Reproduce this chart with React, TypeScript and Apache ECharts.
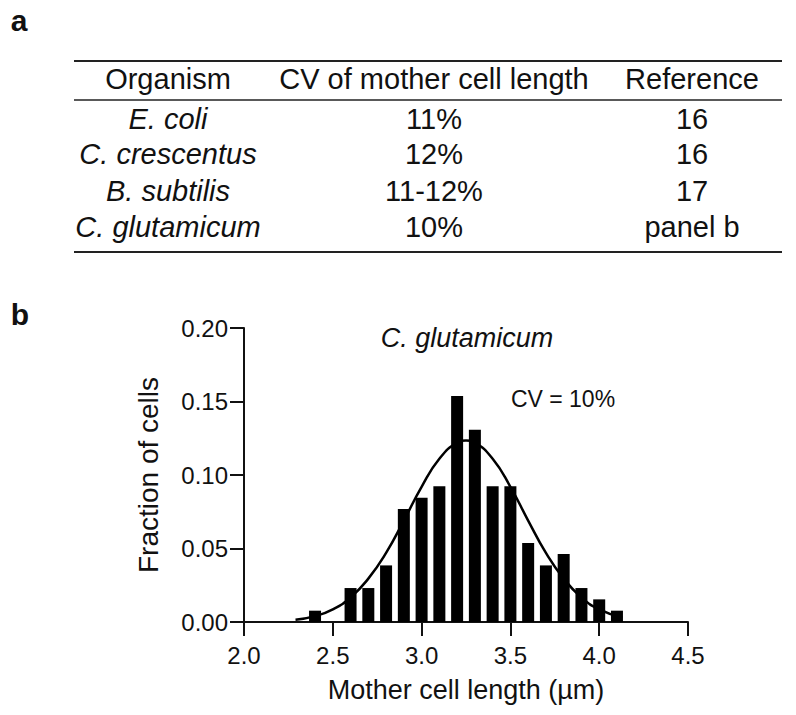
import React, { useEffect, useRef } from "react";
import * as echarts from "echarts";

// ---- Panel a: table ----
const tableHeaders = ["Organism", "CV of mother cell length", "Reference"];
const organisms = ["E. coli", "C. crescentus", "B. subtilis", "C. glutamicum"];
const cvValues = ["11%", "12%", "11-12%", "10%"];
const references = ["16", "16", "17", "panel b"];

// ---- Panel b: histogram ----
const binCenters = [2.4, 2.5, 2.6, 2.7, 2.8, 2.9, 3.0, 3.1, 3.2, 3.3, 3.4, 3.5, 3.6, 3.7, 3.8, 3.9, 4.0, 4.1];
const fractions = [0.0077, 0, 0.0231, 0.0231, 0.0385, 0.0769, 0.0846, 0.0923, 0.1538, 0.1308, 0.0923, 0.0923, 0.0538, 0.0385, 0.0462, 0.0231, 0.0154, 0.0077];

// fitted curve
const curveX = [2.29, 2.4, 2.5, 2.6, 2.7, 2.8, 2.9, 3.0, 3.1, 3.2, 3.25, 3.3, 3.4, 3.5, 3.6, 3.7, 3.8, 3.9, 4.0, 4.13];
const curveY = [0.0015, 0.004, 0.0086, 0.0167, 0.0295, 0.047, 0.069, 0.092, 0.111, 0.122, 0.1235, 0.122, 0.111, 0.092, 0.069, 0.047, 0.0295, 0.0167, 0.0086, 0.003];

const panelTitle = "C. glutamicum";
const cvLabel = "CV = 10%";
const xAxisTitle = "Mother cell length (µm)";
const yAxisTitle = "Fraction of cells";

const FONT = "'Liberation Sans', Arial, Helvetica, sans-serif";
const INK = "#111";

function txt(text: string, x: number, y: number, size: number, opts: any = {}) {
  const align = opts.align || "center";
  return {
    type: "text",
    x,
    y,
    silent: true,
    style: {
      text,
      fill: INK,
      fontSize: size,
      fontFamily: FONT,
      fontStyle: opts.italic ? "italic" : "normal",
      fontWeight: opts.bold ? "bold" : "normal",
      align,
      textAlign: align,
      verticalAlign: "middle",
      textVerticalAlign: "middle",
    },
  };
}

function hline(x1: number, x2: number, y: number, w: number) {
  return {
    type: "line",
    silent: true,
    shape: { x1, y1: y, x2, y2: y },
    style: { stroke: "#222", lineWidth: w },
  };
}

export default function App() {
  const ref = useRef<HTMLDivElement>(null);

  useEffect(() => {
    if (!ref.current) return;
    const chart = echarts.init(ref.current, null, { renderer: "svg" });

    const colX = [168, 434, 692];
    const headerY = 79;
    const rowY = [119, 154, 191, 227];
    const tableFont = 29;

    const graphics: any[] = [];
    graphics.push(txt("a", 19, 20, 30, { bold: true }));
    graphics.push(txt("b", 20, 314, 30, { bold: true }));
    graphics.push(hline(74, 782, 61, 2));
    graphics.push(hline(74, 782, 100, 1.5));
    graphics.push(hline(74, 782, 252, 2));
    tableHeaders.forEach((h, i) => graphics.push(txt(h, colX[i], headerY, tableFont)));
    organisms.forEach((o, i) => {
      graphics.push(txt(o, colX[0], rowY[i], tableFont, { italic: true }));
      graphics.push(txt(cvValues[i], colX[1], rowY[i], tableFont));
      graphics.push(txt(references[i], colX[2], rowY[i], tableFont));
    });
    graphics.push(txt(panelTitle, 467, 338, 27, { italic: true }));
    graphics.push(txt(cvLabel, 563, 399, 23));

    chart.setOption({
      animation: false,
      backgroundColor: "#fff",
      grid: { left: 244, right: 108, top: 328, bottom: 93, containLabel: false },
      xAxis: {
        type: "value",
        min: 2,
        max: 4.5,
        interval: 0.5,
        name: xAxisTitle,
        nameLocation: "middle",
        nameGap: 54,
        nameTextStyle: { fontSize: 27, color: INK, fontFamily: FONT },
        axisLine: { show: true, lineStyle: { color: INK, width: 2 } },
        axisTick: { show: true, length: 14, lineStyle: { color: INK, width: 2 } },
        axisLabel: {
          fontSize: 24,
          color: INK,
          fontFamily: FONT,
          margin: 21,
          formatter: (v: number) => v.toFixed(1),
        },
        splitLine: { show: false },
      },
      yAxis: {
        type: "value",
        min: 0,
        max: 0.2,
        interval: 0.05,
        name: yAxisTitle,
        nameLocation: "middle",
        nameRotate: 90,
        nameGap: 82,
        nameTextStyle: { fontSize: 28, color: INK, fontFamily: FONT },
        axisLine: { show: true, lineStyle: { color: INK, width: 2 } },
        axisTick: { show: true, length: 14, lineStyle: { color: INK, width: 2 } },
        axisLabel: {
          fontSize: 24,
          color: INK,
          fontFamily: FONT,
          margin: 16,
          formatter: (v: number) => v.toFixed(2),
        },
        splitLine: { show: false },
      },
      series: [
        {
          type: "bar",
          data: binCenters.map((x, i) => [x, fractions[i]]),
          barWidth: 12,
          itemStyle: { color: "#000" },
          silent: true,
        },
        {
          type: "line",
          data: curveX.map((x, i) => [x, curveY[i]]),
          smooth: true,
          showSymbol: false,
          symbol: "none",
          lineStyle: { color: "#000", width: 2.5 },
          silent: true,
          z: 3,
        },
      ],
      graphic: graphics,
    });

    return () => chart.dispose();
  }, []);

  return (
    <div
      ref={ref}
      style={{ position: "absolute", left: 0, top: 0, width: 796, height: 715 }}
    />
  );
}
